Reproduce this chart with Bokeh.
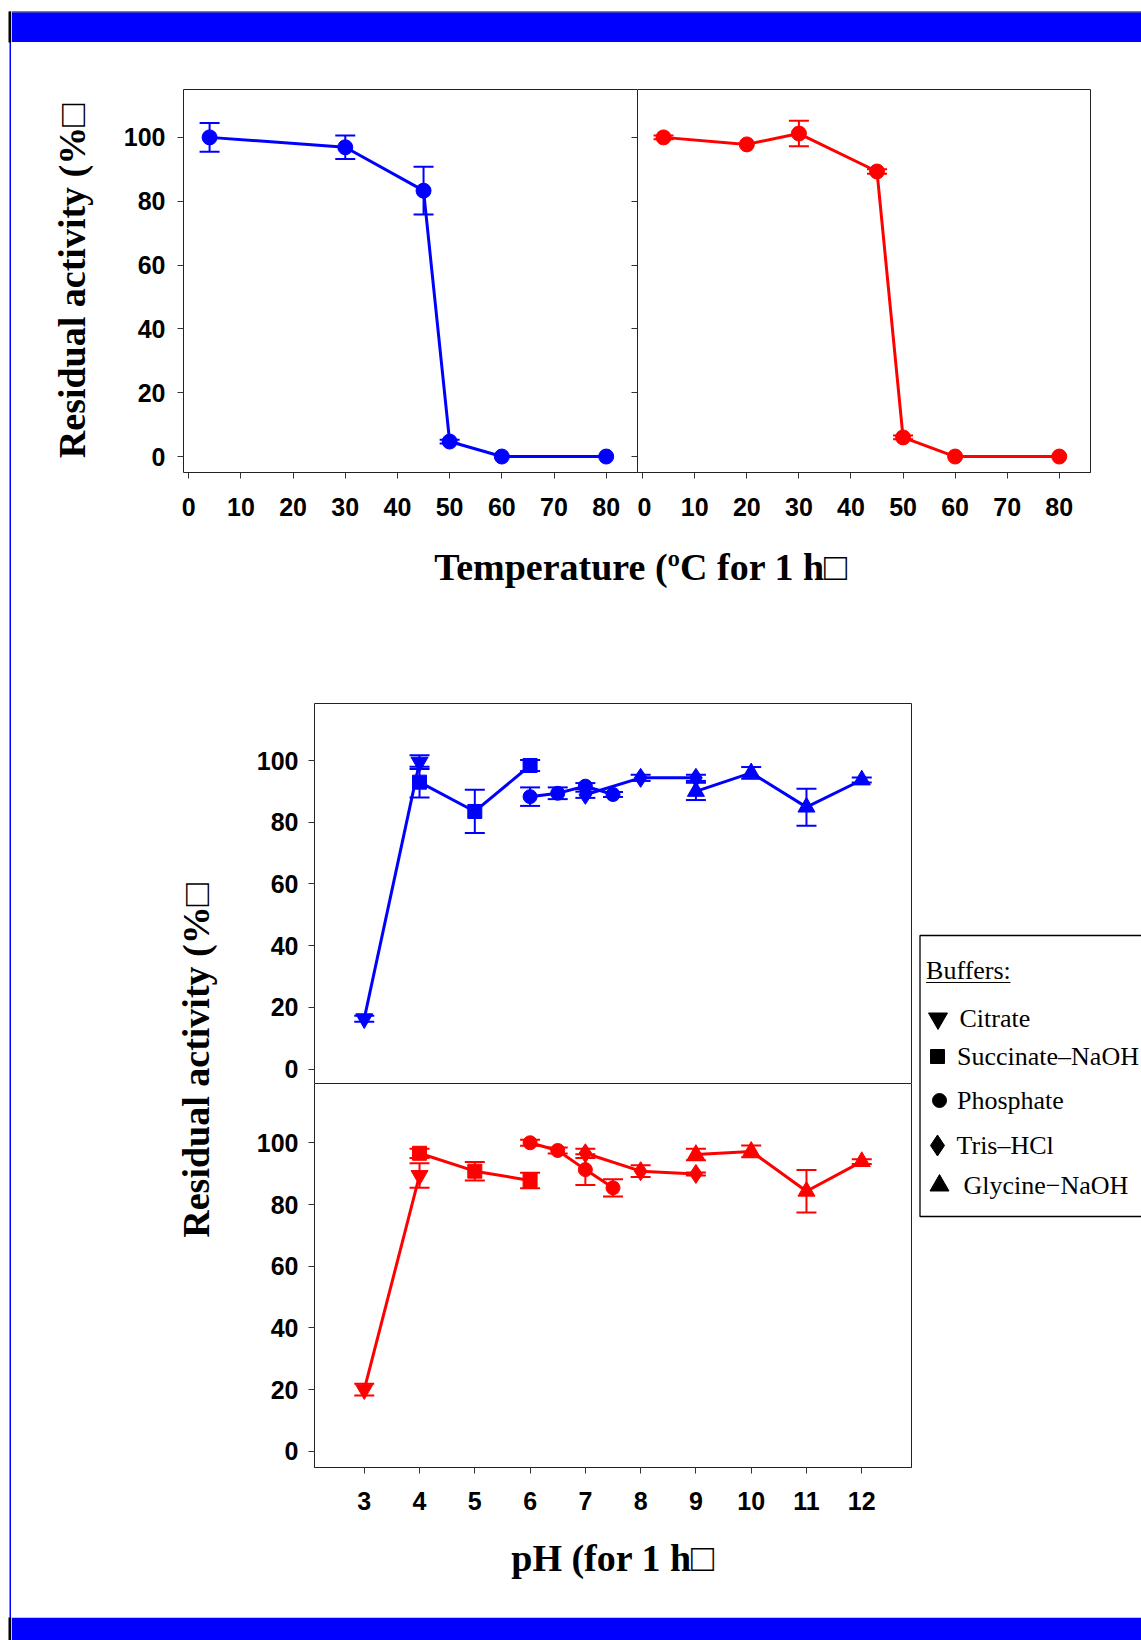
import math
from bokeh.plotting import figure
from bokeh.models import (Range1d, LinearAxis, FixedTicker, Whisker, TeeHead,
                          ColumnDataSource)
from bokeh.layouts import row, column
from bokeh.embed import file_html
from bokeh.resources import INLINE
from bokeh.core.properties import value

# ---------------- data ----------------
temp_ticks = [0, 10, 20, 30, 40, 50, 60, 70, 80]
activity_ticks = [0, 20, 40, 60, 80, 100]
ph_ticks = [3, 4, 5, 6, 7, 8, 9, 10, 11, 12]

temp_left_x = [4, 30, 45, 50, 60, 80]
temp_left_y = [100.0, 96.9, 83.3, 4.7, 0.0, 0.0]
temp_left_err = [4.5, 3.7, 7.5, 0.6, 0.0, 0.0]

temp_right_x = [4, 20, 30, 45, 50, 60, 80]
temp_right_y = [100.0, 97.8, 101.2, 89.3, 6.0, 0.0, 0.0]
temp_right_err = [0.6, 0.0, 4.0, 0.7, 0.6, 0.0, 0.0]

buffer_names = ["Citrate", "Succinate–NaOH", "Phosphate", "Tris–HCl", "Glycine−NaOH"]
buffer_markers = ["inverted_triangle", "square", "circle", "diamond", "triangle"]

citrate_ph = [3, 4]
succinate_ph = [4, 5, 6]
phosphate_ph = [6, 6.5, 7, 7.5]
tris_ph = [7, 8, 9]
glycine_ph = [9, 10, 11, 12]

blue_citrate_y = [16.3, 99.5]
blue_citrate_err = [1.0, 2.2]
blue_succinate_y = [93.0, 83.5, 98.4]
blue_succinate_err = [5.0, 7.0, 1.8]
blue_phosphate_y = [88.3, 89.4, 91.7, 89.0]
blue_phosphate_err = [3.0, 1.9, 1.0, 0.8]
blue_tris_y = [88.9, 94.4, 94.4]
blue_tris_err = [1.0, 1.0, 1.0]
blue_glycine_y = [90.0, 96.0, 84.9, 93.7]
blue_glycine_err = [2.8, 1.9, 6.0, 0.8]

red_citrate_y = [20.0, 89.4]
red_citrate_err = [1.9, 4.0]
red_succinate_y = [96.6, 90.8, 87.8]
red_succinate_err = [1.5, 3.0, 2.5]
red_phosphate_y = [100.0, 97.5, 91.3, 85.4]
red_phosphate_err = [1.0, 1.0, 5.0, 2.8]
red_tris_y = [96.6, 90.8, 89.9]
red_tris_err = [1.5, 1.9, 0.5]
red_glycine_y = [96.2, 97.2, 84.3, 93.9]
red_glycine_err = [1.9, 1.9, 6.9, 0.8]

y_label = "Residual activity (%□"
temp_label = "Temperature (ºC for 1 h□"
ph_label = "pH (for 1 h□"
legend_title = "Buffers:"

BLUE = "#0000FF"
RED = "#FF0000"
AXC = "#222222"
TICKC = "#333333"
TICK_FONT = "Liberation Sans"
LABEL_FONT = "Liberation Serif"

ph_sets = [citrate_ph, succinate_ph, phosphate_ph, tris_ph, glycine_ph]
blue_sets = [blue_citrate_y, blue_succinate_y, blue_phosphate_y, blue_tris_y, blue_glycine_y]
blue_errs = [blue_citrate_err, blue_succinate_err, blue_phosphate_err, blue_tris_err, blue_glycine_err]
red_sets = [red_citrate_y, red_succinate_y, red_phosphate_y, red_tris_y, red_glycine_y]
red_errs = [red_citrate_err, red_succinate_err, red_phosphate_err, red_tris_err, red_glycine_err]
marker_size = {"inverted_triangle": 17, "square": 14, "circle": 14,
               "diamond": 19, "triangle": 17}


def base_fig(w, h, xr, yr, **kw):
    p = figure(width=w, height=h, x_range=xr, y_range=yr,
               output_backend="svg", toolbar_location=None, tools="",
               x_axis_location=None, y_axis_location=None, **kw)
    p.xgrid.grid_line_color = None
    p.ygrid.grid_line_color = None
    p.background_fill_color = "white"
    p.border_fill_color = "white"
    return p


def deco_fig(w, h, **kw):
    p = base_fig(w, h, Range1d(0, w), Range1d(0, h),
                 min_border_left=0, min_border_right=0,
                 min_border_top=0, min_border_bottom=0, **kw)
    p.outline_line_color = None
    return p


def tick_axis(ticks, out=6, inn=0, labels=True, standoff=12, line=True):
    ax = LinearAxis(ticker=FixedTicker(ticks=ticks))
    ax.major_tick_out = out
    ax.major_tick_in = inn
    ax.minor_tick_out = 0
    ax.minor_tick_in = 0
    ax.major_tick_line_color = TICKC
    ax.axis_line_color = AXC if line else None
    if labels:
        ax.major_label_text_font = TICK_FONT
        ax.major_label_text_font_style = "bold"
        ax.major_label_text_font_size = "25px"
        ax.major_label_text_color = "black"
        ax.major_label_standoff = standoff
    else:
        ax.major_label_overrides = {t: "" for t in ticks}
        ax.major_label_text_color = None
        ax.major_label_standoff = 0
    return ax


def line_axis():
    return tick_axis([], out=0, inn=0, labels=False)


def style_label(ax, text, standoff):
    ax.axis_label = text
    ax.axis_label_text_font = LABEL_FONT
    ax.axis_label_text_font_style = "bold"
    ax.axis_label_text_font_size = "38px"
    ax.axis_label_text_color = "black"
    ax.axis_label_standoff = standoff


def add_errors(p, xs, ys, errs, color):
    sel = [(x, y, e) for x, y, e in zip(xs, ys, errs) if e > 0]
    if not sel:
        return
    src = ColumnDataSource(dict(x=[s[0] for s in sel],
                                upper=[s[1] + s[2] for s in sel],
                                lower=[s[1] - s[2] for s in sel]))
    p.add_layout(Whisker(source=src, base="x", upper="upper", lower="lower",
                         line_color=color, line_width=2, level="glyph",
                         upper_head=TeeHead(size=20, line_color=color, line_width=2),
                         lower_head=TeeHead(size=20, line_color=color, line_width=2)))


# ---------------- page frame (bars and left rule) ----------------
W_LEFT = 11
W_MAIN = 1141 - W_LEFT
H_PAGE = 1640

left = deco_fig(W_LEFT, H_PAGE)
left.quad(left=9, right=11, bottom=0, top=H_PAGE - 11, fill_color=BLUE, line_color=None)
left.quad(left=8, right=11, bottom=H_PAGE - 42, top=H_PAGE - 11, fill_color="black", line_color=None)
left.quad(left=8, right=11, bottom=0, top=23, fill_color="black", line_color=None)

header = deco_fig(W_MAIN, 42)
header.quad(left=0, right=W_MAIN, bottom=30, top=31, fill_color="black", line_color=None)
header.quad(left=0, right=W_MAIN, bottom=0, top=30, fill_color=BLUE, line_color=None)

footer = deco_fig(W_MAIN, 23)
footer.quad(left=0, right=W_MAIN, bottom=0, top=23, fill_color=BLUE, line_color=None)

# ---------------- temperature panels ----------------
H_TOP = 483
tl = base_fig(626, H_TOP, Range1d(-1, 86), Range1d(-5, 115),
              min_border_left=172, min_border_right=0,
              min_border_top=47, min_border_bottom=53)
tl.outline_line_color = None
ax = tick_axis(activity_ticks, standoff=12)
style_label(ax, y_label, 28)
tl.add_layout(ax, "left")
tl.add_layout(tick_axis(temp_ticks, standoff=19), "below")
tl.add_layout(line_axis(), "above")
tl.add_layout(tick_axis(activity_ticks, out=0, inn=6, labels=False, line=False), "right")
tl.line(temp_left_x, temp_left_y, line_color=BLUE, line_width=3)
tl.scatter(temp_left_x, temp_left_y, marker="circle", size=15, color=BLUE)
add_errors(tl, temp_left_x, temp_left_y, temp_left_err, BLUE)

tr = base_fig(W_MAIN - 626, H_TOP, Range1d(-1, 86), Range1d(-5, 115),
              min_border_left=0, min_border_right=51,
              min_border_top=47, min_border_bottom=53)
tr.outline_line_color = AXC
tr.add_layout(tick_axis(temp_ticks, standoff=19), "below")
tr.line(temp_right_x, temp_right_y, line_color=RED, line_width=3)
tr.scatter(temp_right_x, temp_right_y, marker="circle", size=15, color=RED)
add_errors(tr, temp_right_x, temp_right_y, temp_right_err, RED)

tlabel = deco_fig(W_MAIN, 115)
tlabel.text(x=[640.5 - W_LEFT], y=[115 - (566 - 525)], text=[temp_label],
            text_font=value(LABEL_FONT), text_font_style="bold",
            text_font_size=value("38px"), text_align="center",
            text_baseline="middle", text_color="black")

# ---------------- pH panels ----------------
H_PH = 977
W_PHL = 240 - W_LEFT
phlabel = deco_fig(W_PHL, H_PH)
phlabel.text(x=[195 - W_LEFT], y=[H_PH - (1060 - 640)], text=[y_label], angle=math.pi / 2,
             text_font=value(LABEL_FONT), text_font_style="bold",
             text_font_size=value("38px"), text_align="center",
             text_baseline="middle", text_color="black")


def draw_buffers(p, ysets, esets, color):
    for xs, ys in zip(ph_sets, ysets):
        p.line(xs, ys, line_color=color, line_width=3)
    for xs, ys, es, m in zip(ph_sets, ysets, esets, buffer_markers):
        p.scatter(xs, ys, marker=m, size=marker_size[m], color=color)
        add_errors(p, xs, ys, es, color)


pb = base_fig(674, 443, Range1d(2.1, 12.9), Range1d(-4.7, 118.5),
              min_border_left=74, min_border_right=3,
              min_border_top=63, min_border_bottom=0)
pb.outline_line_color = None
pb.add_layout(tick_axis(activity_ticks, standoff=10), "left")
pb.add_layout(line_axis(), "above")
pb.add_layout(line_axis(), "right")
draw_buffers(pb, blue_sets, blue_errs, BLUE)

pr = base_fig(674, 534, Range1d(2.1, 12.9), Range1d(-5.2, 119.2),
              min_border_left=74, min_border_right=3,
              min_border_top=0, min_border_bottom=150)
pr.outline_line_color = AXC
pr.add_layout(tick_axis(activity_ticks, standoff=10), "left")
axb = tick_axis(ph_ticks, standoff=18)
style_label(axb, ph_label, 24)
pr.add_layout(axb, "below")
draw_buffers(pr, red_sets, red_errs, RED)

# ---------------- legend ----------------
W_LEG = W_MAIN - W_PHL - 674
legend = deco_fig(W_LEG, H_PH)
def ly(page_y):
    return 1617 - page_y
legend.quad(left=5.5, right=W_LEG + 40, bottom=ly(1216), top=ly(935),
            fill_color="white", line_color="black", line_width=1.3)
legend.text(x=[11.6], y=[ly(969.5)], text=[legend_title],
            text_font=value(LABEL_FONT), text_font_size=value("26px"),
            text_align="left", text_baseline="middle", text_color="black")
legend.segment(x0=[11.6], y0=[ly(982)], x1=[96], y1=[ly(982)],
               line_color="black", line_width=1.2)
row_y = [ly(v) for v in [1018, 1056, 1100, 1145, 1185]]
mark_x = [23.5, 23, 25, 23, 25]
text_x = [45, 42.5, 42.5, 42, 49]
leg_size = {"inverted_triangle": 19, "square": 14, "circle": 14,
            "diamond": 21, "triangle": 19}
for mx, my, m in zip(mark_x, row_y, buffer_markers):
    legend.scatter([mx], [my], marker=m, size=leg_size[m], color="black")
legend.text(x=text_x, y=row_y, text=buffer_names,
            text_font=value(LABEL_FONT), text_font_size=value("26px"),
            text_align="left", text_baseline="middle", text_color="black")

# ---------------- layout ----------------
main = column(header,
              row(tl, tr),
              tlabel,
              row(phlabel, column(pb, pr), legend),
              footer)
page = row(left, main)

open("out.html", "w").write(file_html(page, INLINE))
